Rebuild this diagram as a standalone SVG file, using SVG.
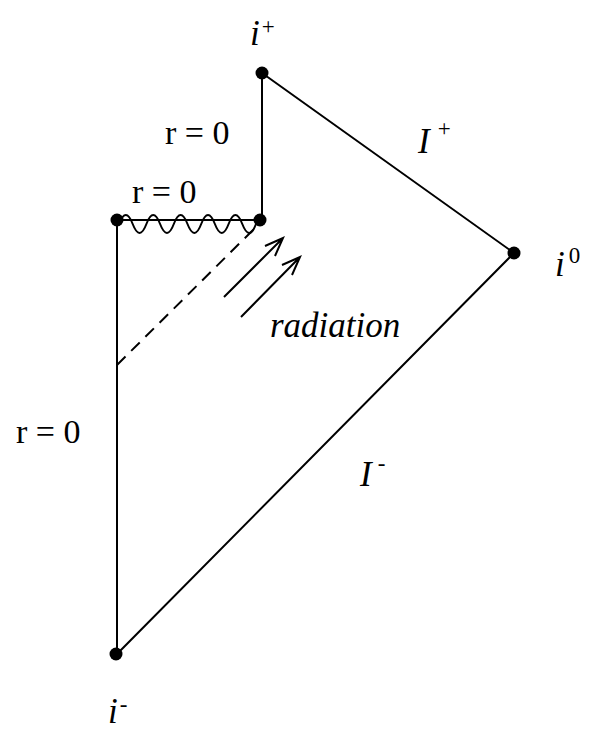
<svg xmlns="http://www.w3.org/2000/svg" width="603" height="736" viewBox="0 0 603 736">
<style>
.l{stroke:#000;stroke-width:2;fill:none}
.t{font-family:"Liberation Serif",serif;font-size:34px}
.i{font-family:"Liberation Serif",serif;font-size:35px;font-style:italic}
.s{font-size:23px;font-style:normal}
</style>
<rect width="603" height="736" fill="#fff"/>
<g id="connectors">
<path class="l" d="M262,73 V220 H117 V654 L514,253 L262,73"/>
<path class="l" stroke-width="1.6" d="M119,224 q6.8,-18 13.7,0 t13.7,0 t13.7,0 t13.7,0 t13.7,0 t13.7,0 t13.7,0 t13.7,0 t13.7,0 t13.7,0"/>
<path class="l" stroke-width="1.6" stroke-dasharray="12,8" d="M117,365 L255,228"/>
<path class="l" stroke-width="1.6" d="M224,297 L283,238 M265,246 L283,238 L275,256"/>
<path class="l" stroke-width="1.6" d="M241,317 L300,257 M282,265 L300,257 L292,275"/>
</g>
<g id="nodes">
<circle id="iplus" cx="262" cy="73" r="6.5"/>
<circle id="corner" cx="260" cy="220" r="6.5"/>
<circle id="left" cx="117" cy="220" r="6.5"/>
<circle id="i0" cx="514" cy="253" r="6.5"/>
<circle id="iminus" cx="116" cy="654" r="6.5"/>
</g>
<g id="labels">
<text class="i" x="250" y="45">i<tspan class="s" dx="2" dy="-11">+</tspan></text>
<text class="t" x="165" y="144">r = 0</text>
<text class="t" x="132" y="203">r = 0</text>
<text class="t" x="16" y="443">r = 0</text>
<text class="i" x="418" y="153">I<tspan class="s" dx="8" dy="-17">+</tspan></text>
<text class="i" x="555" y="276">i<tspan class="s" dx="4" dy="-13">0</tspan></text>
<text class="i" x="270" y="337">radiation</text>
<text class="i" x="360" y="486">I<tspan class="s" dx="6" dy="-15">-</tspan></text>
<text class="i" x="108" y="723">i<tspan class="s" dx="2" dy="-11">-</tspan></text>
</g>
</svg>
